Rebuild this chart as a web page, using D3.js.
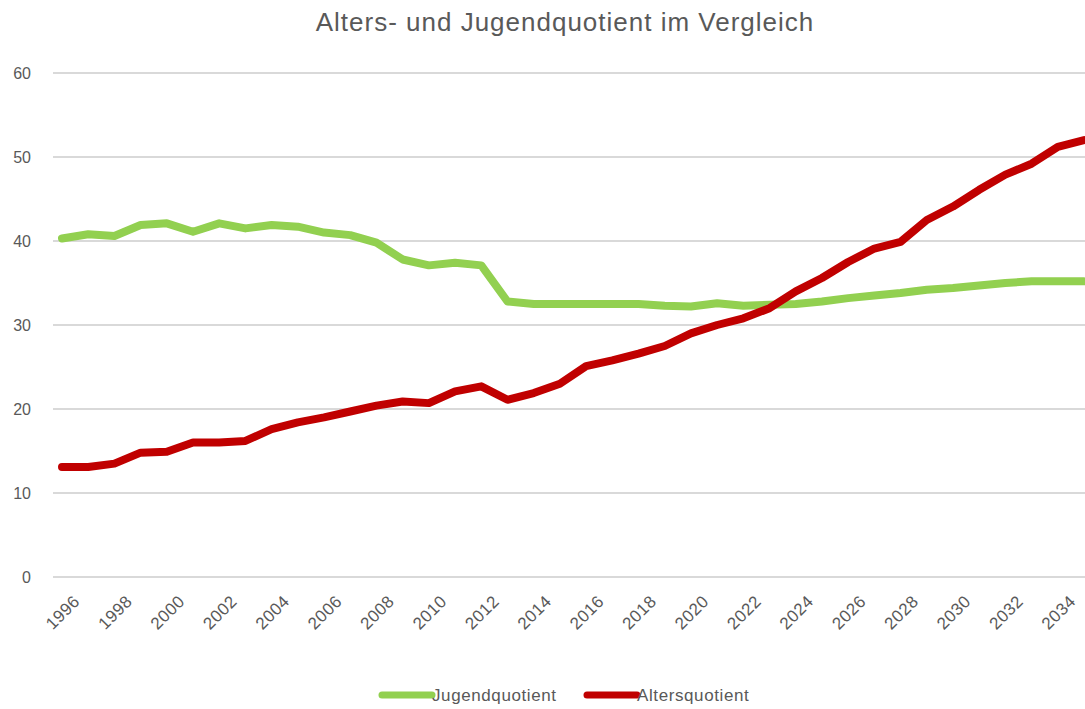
<!DOCTYPE html>
<html>
<head>
<meta charset="utf-8">
<script src="https://cdn.jsdelivr.net/npm/d3@7"></script>
<style>
    body { margin: 0; background: #fff; }
    text { font-family: "Liberation Sans", sans-serif; fill: #595959; }
</style>
</head>
<body>
<div id="chart"></div>
<script>
    let years = d3.range(1996, 2036);
    let tickYears = d3.range(1996, 2036, 2);
    let yTicks = [0, 10, 20, 30, 40, 50, 60];

    let jugendquotient = [
        40.3, 40.8, 40.6, 41.9, 42.1, 41.1, 42.1, 41.5, 41.9, 41.7,
        41.0, 40.7, 39.8, 37.8, 37.1, 37.4, 37.1, 32.8, 32.5, 32.5,
        32.5, 32.5, 32.5, 32.3, 32.2, 32.6, 32.3, 32.4, 32.5, 32.8,
        33.2, 33.5, 33.8, 34.2, 34.4, 34.7, 35.0, 35.2, 35.2, 35.2
    ];
    let altersquotient = [
        13.1, 13.1, 13.5, 14.8, 14.9, 16.0, 16.0, 16.2, 17.6, 18.4,
        19.0, 19.7, 20.4, 20.9, 20.7, 22.1, 22.7, 21.1, 21.9, 23.0,
        25.1, 25.8, 26.6, 27.5, 29.0, 30.0, 30.8, 32.0, 34.0, 35.6,
        37.5, 39.1, 39.9, 42.5, 44.1, 46.1, 47.9, 49.2, 51.2, 52.0
    ];

    let width = 1085, height = 709;

    let svg = d3.select("#chart")
        .append("svg")
        .attr("width", width)
        .attr("height", height);

    let x = d3.scalePoint().domain(years).range([62, 1084]);
    let y = d3.scaleLinear().domain([0, 60]).range([577, 73]);

    // Gridlines
    svg.append("g")
        .selectAll("line")
        .data(yTicks)
        .enter()
        .append("line")
        .attr("x1", 53)
        .attr("x2", width)
        .attr("y1", d => y(d))
        .attr("y2", d => y(d))
        .attr("stroke", "#d9d9d9")
        .attr("stroke-width", 2);

    // Y axis labels
    let yAxis = svg.append("g")
        .attr("transform", "translate(31,0)")
        .call(d3.axisLeft(y).tickValues(yTicks).tickSize(0).tickPadding(0));
    yAxis.select(".domain").remove();
    yAxis.selectAll("text")
        .style("font-family", "'Liberation Sans', sans-serif")
        .attr("fill", "#595959")
        .style("font-size", "16px");

    // X axis labels
    let xAxis = svg.append("g")
        .attr("transform", "translate(0,594)")
        .call(d3.axisBottom(x).tickValues(tickYears).tickSize(0).tickPadding(0));
    xAxis.select(".domain").remove();
    xAxis.selectAll("text")
        .style("font-family", "'Liberation Sans', sans-serif")
        .attr("fill", "#595959")
        .style("font-size", "17px")
        .style("letter-spacing", "0.5px")
        .attr("text-anchor", "end")
        .attr("y", 0)
        .attr("dy", "0.7em")
        .attr("transform", "translate(10,0) rotate(-45)");

    // Lines
    let line = d3.line()
        .x((d, i) => x(years[i]))
        .y(d => y(d));

    svg.append("path")
        .datum(jugendquotient)
        .attr("fill", "none")
        .attr("stroke", "#92d050")
        .attr("stroke-width", 8)
        .attr("stroke-linejoin", "round")
        .attr("stroke-linecap", "round")
        .attr("d", line);

    svg.append("path")
        .datum(altersquotient)
        .attr("fill", "none")
        .attr("stroke", "#c00000")
        .attr("stroke-width", 8)
        .attr("stroke-linejoin", "round")
        .attr("stroke-linecap", "round")
        .attr("d", line);

    // Title
    svg.append("text")
        .attr("x", 565)
        .attr("y", 31)
        .attr("text-anchor", "middle")
        .style("font-size", "26px")
        .style("letter-spacing", "1px")
        .attr("fill", "#6b6b6b")
        .text("Alters- und Jugendquotient  im Vergleich");

    // Legend
    let legend = [
        { name: "Jugendquotient", color: "#92d050", x: 382 },
        { name: "Altersquotient", color: "#c00000", x: 587 }
    ];
    let lg = svg.append("g").selectAll("g")
        .data(legend)
        .enter()
        .append("g")
        .attr("transform", d => `translate(${d.x},695)`);
    lg.append("line")
        .attr("x1", 0).attr("x2", 50)
        .attr("stroke", d => d.color)
        .attr("stroke-width", 7)
        .attr("stroke-linecap", "round");
    lg.append("text")
        .attr("x", 50)
        .attr("dy", "0.35em")
        .style("font-size", "17px")
        .style("letter-spacing", "0.6px")
        .text(d => d.name);
</script>
</body>
</html>
